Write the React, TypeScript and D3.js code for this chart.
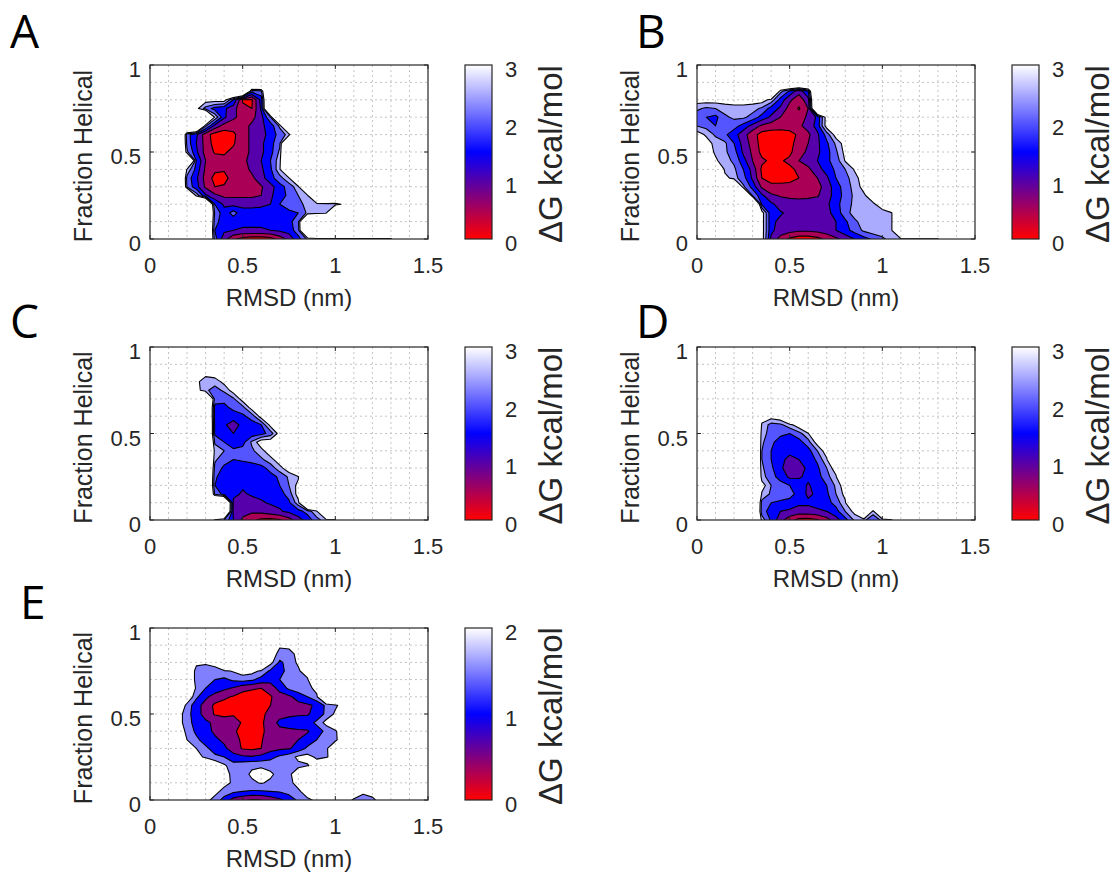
import React from "react";
import * as d3 from "d3";

const _ = null;
type Row = [number, number, (number | null)[]];

// axes
const RMSD_DOMAIN: [number, number] = [0, 1.5];
const HELIX_DOMAIN: [number, number] = [0, 1];
const RMSD_TICKS = [0, 0.5, 1, 1.5];
const RMSD_TICK_LABELS = ["0", "0.5", "1", "1.5"];
const HELIX_TICKS = [0, 0.5, 1];
const HELIX_TICK_LABELS = ["0", "0.5", "1"];
const X_LABEL = "RMSD (nm)";
const Y_LABEL = "Fraction Helical";
const CB_LABEL = "ΔG kcal/mol";
const LEVELS_3 = [0, 0.5, 1, 1.5, 2, 2.5, 3];
const LEVELS_2 = [0, 0.5, 1, 1.5, 2];
const CBAR_TICKS_3 = [0, 1, 2, 3];
const CBAR_TICKS_2 = [0, 1, 2];

// free-energy grid: RMSD nodes 0..1.5 (step 0.05), helical fraction nodes 0..1 (step 0.05)
const STEP_RMSD = 0.05;
const STEP_HELIX = 0.05;
const N_RMSD = 31;
const N_HELIX = 21;

// rows: [helix node j, first rmsd node k, ΔG values (kcal/mol), null = unvisited]
const DG_A: Row[] = [
  [17, 11, [2.2, 2.4]],
  [16, 5, [3.3, 3.3, 3.3, 3.3, 2.0, 0.45, 0.45, 1.7]],
  [15, 5, [3.2, 2.3, 1.8, 1.6, 1.2, 0.6, 0.5, 1.6]],
  [14, 7, [2.9, 1.6, 1.1, 0.8, 0.85, 1.3, 2.5]],
  [13, 6, [2.6, 1.3, 0.8, 0.7, 0.8, 1.1, 1.4, 1.7, 2.6]],
  [12, 4, [2.2, 1.6, 0.7, 0.3, 0.2, 0.4, 0.8, 1.1, 1.3, 1.7, 2.2, 2.7]],
  [11, 4, [2.3, 1.5, 0.8, 0.3, 0.2, 0.45, 0.8, 1.1, 1.4, 1.8, 2.4]],
  [10, 4, [2.6, 1.6, 0.8, 0.45, 0.45, 0.6, 0.8, 1.1, 1.4, 1.8, 2.6]],
  [9, 5, [2.0, 1.0, 0.7, 0.6, 0.7, 0.85, 1.2, 1.5, 2.0, 2.8]],
  [8, 4, [2.9, 1.8, 0.9, 0.6, 0.55, 0.65, 0.8, 1.1, 1.4, 1.9, 2.9]],
  [7, 4, [2.3, 1.6, 0.8, 0.35, 0.35, 0.7, 0.8, 0.9, 1.3, 1.8, 2.3, 2.9]],
  [6, 4, [2.4, 1.7, 0.9, 0.5, 0.55, 0.8, 0.8, 0.85, 0.95, 1.3, 1.8, 2.2, 2.8]],
  [5, 5, [2.8, 1.6, 1.1, 0.9, 0.9, 0.9, 0.9, 1.0, 1.4, 1.8, 2.1, 2.5, 2.9]],
  [4, 7, [2.0, 1.4, 1.35, 1.35, 1.35, 1.4, 1.5, 2.0, 2.2, 2.4, 2.6, 2.7, 2.8, 2.7, 3.2]],
  [3, 7, [2.4, 1.7, 2.2, 1.7, 1.7, 1.7, 1.7, 1.7, 1.9, 2.0, 2.6, 2.8, 2.9]],
  [2, 7, [2.2, 1.7, 1.7, 1.6, 1.6, 1.6, 1.6, 1.7, 1.8, 2.4]],
  [1, 7, [2.0, 1.6, 1.5, 1.45, 1.45, 1.45, 1.5, 1.6, 1.7, 2.3]],
  [0, 7, [2.2, 1.2, 0.6, 0.3, 0.2, 0.2, 0.3, 0.7, 1.2, 1.8, 2.6, 2.8, 2.8, 2.8, 2.8, 2.8, 2.8, 2.8, 2.8, 2.8]],
];

const DG_B: Row[] = [
  [17, 9, [2.7, 1.9, 1.2, 2.0]],
  [16, 0, [3.3, 3.3, 3.3, 3.3, 3.3, 3.3, 3.3, 3.3, 2.8, 1.8, 1.1, 0.7, 1.3]],
  [15, 0, [2.6, 2.4, 2.5, 2.7, 2.8, 2.8, 2.7, 2.4, 1.8, 1.4, 0.8, 0.45, 1.0]],
  [14, 0, [2.2, 2.0, 1.85, 2.4, 2.6, 2.6, 2.3, 1.8, 1.4, 1.0, 0.8, 0.75, 1.1, 1.6, 3.3]],
  [13, 0, [2.5, 2.3, 2.0, 2.2, 2.2, 1.8, 1.3, 0.9, 0.75, 0.7, 0.75, 0.9, 1.2, 1.7, 3.3]],
  [12, 0, [3.3, 2.9, 2.4, 2.1, 1.7, 1.2, 0.7, 0.3, 0.25, 0.25, 0.3, 0.6, 0.9, 1.4, 2.2, 3.3]],
  [11, 1, [3.3, 2.8, 2.6, 2.0, 1.3, 0.8, 0.3, 0.2, 0.2, 0.35, 0.7, 1.0, 1.4, 1.9, 2.6, 3.3]],
  [10, 1, [3.4, 2.9, 2.6, 2.2, 1.4, 0.9, 0.35, 0.3, 0.3, 0.4, 0.8, 1.1, 1.4, 1.8, 2.4, 3.2]],
  [9, 2, [3.1, 2.7, 2.4, 1.7, 1.0, 0.6, 0.4, 0.45, 0.6, 1.0, 1.2, 1.5, 1.9, 2.2, 3.05, 3.3]],
  [8, 3, [2.8, 2.6, 2.0, 1.3, 0.4, 0.3, 0.3, 0.4, 0.6, 0.9, 1.3, 1.7, 2.1, 2.5, 3.05, 3.3]],
  [7, 3, [3.3, 2.7, 2.2, 1.4, 0.5, 0.35, 0.35, 0.4, 0.5, 0.8, 1.0, 1.4, 2.0, 2.3, 2.8, 3.3]],
  [6, 5, [2.6, 1.8, 0.9, 0.6, 0.6, 0.6, 0.7, 0.8, 0.85, 1.2, 1.8, 2.2, 2.7, 3.2]],
  [5, 6, [2.5, 1.6, 1.1, 0.95, 0.9, 0.9, 0.9, 0.95, 1.3, 1.7, 2.2, 2.6, 2.9, 3.4]],
  [4, 7, [1.9, 1.6, 1.3, 1.2, 1.15, 1.2, 1.3, 1.4, 1.8, 2.3, 2.6, 2.7, 2.9, 3.3]],
  [3, 7, [3.3, 1.6, 1.55, 1.4, 1.2, 1.2, 1.2, 1.35, 1.7, 2.3, 2.7, 2.8, 2.8, 2.8, 2.9]],
  [2, 7, [3.3, 1.6, 1.4, 1.3, 1.2, 1.2, 1.25, 1.3, 1.5, 1.9, 2.4, 2.7, 2.8, 2.85, 2.9]],
  [1, 7, [3.3, 1.6, 1.3, 1.2, 1.1, 1.1, 1.15, 1.3, 1.5, 1.8, 2.2, 2.6, 2.8, 2.8, 2.9]],
  [0, 7, [3.3, 1.4, 0.8, 0.4, 0.2, 0.2, 0.35, 0.6, 0.9, 1.2, 1.5, 1.8, 2.1, 2.4, 2.7, 2.9, 2.9, 2.9, 2.9, 2.9]],
];

const DG_C: Row[] = [
  [17, 6, [3.3, 3.4]],
  [16, 5, [3.2, 2.6, 2.7, 3.2]],
  [15, 5, [3.3, 2.6, 2.3, 2.6, 3.3]],
  [14, 7, [2.3, 2.1, 2.4, 3.3]],
  [13, 7, [1.8, 1.9, 2.1, 2.3, 3.3]],
  [12, 7, [1.8, 1.7, 1.8, 1.9, 2.2, 3.3]],
  [11, 7, [1.9, 1.6, 1.2, 1.7, 1.8, 2.0, 3.2]],
  [10, 7, [1.9, 1.6, 1.5, 1.6, 1.7, 1.8, 2.2, 3.3]],
  [9, 7, [2.4, 2.0, 1.7, 1.8, 2.6, 3.4, 3.4]],
  [8, 7, [2.8, 2.5, 2.1, 2.2, 2.4, 2.8, 3.4]],
  [7, 7, [2.6, 2.2, 2.0, 2.1, 2.2, 2.4, 2.8, 3.4]],
  [6, 7, [2.3, 1.9, 1.7, 1.6, 1.7, 1.8, 2.2, 2.8, 3.4]],
  [5, 7, [2.1, 1.7, 1.6, 1.55, 1.6, 1.65, 1.8, 2.1, 2.6, 2.9]],
  [4, 7, [2.0, 1.7, 1.6, 1.55, 1.6, 1.65, 1.75, 2.0, 2.5, 3.2]],
  [3, 7, [2.4, 1.8, 1.6, 1.45, 1.55, 1.6, 1.7, 1.8, 2.2, 3.3]],
  [2, 9, [1.4, 1.3, 1.35, 1.45, 1.55, 1.6, 1.9, 2.8]],
  [1, 9, [1.3, 1.2, 1.1, 1.15, 1.3, 1.45, 1.6, 1.8, 2.2, 2.9]],
  [0, 7, [2.9, 2.5, 1.5, 0.9, 0.6, 0.4, 0.35, 0.45, 0.8, 1.3, 1.7, 2.3, 2.8, 2.9]],
];

const DG_D: Row[] = [
  [12, 7, [3.4, 3.3, 3.5]],
  [11, 7, [2.9, 2.3, 2.4, 2.8, 3.4]],
  [10, 7, [2.7, 2.3, 2.1, 2.0, 2.3, 2.9]],
  [9, 7, [2.6, 2.1, 1.8, 1.7, 1.8, 2.3, 3.3]],
  [8, 7, [2.5, 2.0, 1.7, 1.6, 1.6, 1.8, 2.5, 3.4]],
  [7, 7, [2.5, 2.0, 1.6, 1.4, 1.5, 1.7, 2.1, 2.9]],
  [6, 7, [2.6, 2.1, 1.6, 1.2, 1.3, 1.6, 1.9, 2.5, 3.4]],
  [5, 7, [2.7, 2.2, 1.8, 1.4, 1.45, 1.6, 1.8, 2.3, 2.9]],
  [4, 7, [3.3, 2.5, 2.2, 2.0, 1.7, 1.45, 1.7, 2.0, 2.6, 3.4]],
  [3, 7, [2.9, 2.4, 2.3, 2.2, 1.8, 1.4, 1.6, 1.9, 2.5, 3.2]],
  [2, 7, [2.3, 2.0, 1.9, 1.8, 1.6, 1.6, 1.7, 1.8, 2.2, 2.9]],
  [1, 7, [2.2, 1.8, 1.5, 1.4, 1.3, 1.3, 1.4, 1.5, 1.8, 2.5, 3.2, _, 2.7]],
  [0, 7, [2.8, 1.9, 1.2, 0.7, 0.35, 0.3, 0.45, 0.8, 1.3, 1.8, 2.6, 2.6, 2.2, 2.6, 2.9]],
];

const DG_E: Row[] = [
  [18, 14, [2.1, 2.2]],
  [17, 13, [2.4, 1.8, 1.75, 2.2]],
  [16, 4, [2.1, 2.1, 2.1, 2.2, _, _, _, _, _, 2.2, 1.4, 1.7, 2.1]],
  [15, 4, [2.6, 1.85, 1.7, 1.8, 1.9, 2.05, 2.3, 2.2, 1.9, 1.4, 1.3, 1.7, 1.9, 2.4]],
  [14, 4, [2.6, 1.85, 1.7, 1.5, 1.4, 1.6, 1.7, 1.6, 1.3, 1.2, 1.5, 1.8, 1.9, 1.9]],
  [13, 5, [1.8, 1.5, 1.3, 1.1, 0.95, 0.65, 0.55, 0.5, 0.7, 1.2, 1.6, 1.8, 1.8, 2.2]],
  [12, 4, [2.6, 1.6, 1.1, 0.8, 0.6, 0.45, 0.3, 0.3, 0.35, 0.45, 0.75, 0.9, 1.2, 1.5, 1.9]],
  [11, 3, [2.8, 1.8, 1.2, 0.8, 0.4, 0.3, 0.25, 0.25, 0.3, 0.4, 0.5, 0.8, 0.8, 0.85, 0.9, 1.1, 1.6, 1.9, 2.3]],
  [10, 3, [2.3, 1.7, 1.2, 0.8, 0.45, 0.35, 0.45, 0.3, 0.25, 0.35, 0.7, 0.85, 0.9, 0.95, 0.95, 1.2, 1.6, 2.1]],
  [9, 3, [2.3, 1.7, 1.3, 1.1, 0.9, 0.8, 0.7, 0.45, 0.3, 0.4, 0.8, 1.1, 1.2, 1.2, 1.3, 1.6, 2.2, 2.4]],
  [8, 3, [2.6, 1.8, 1.4, 1.2, 0.9, 0.85, 0.55, 0.4, 0.3, 0.35, 0.8, 0.9, 0.9, 0.95, 0.95, 1.3, 1.6, 1.95, 2.3]],
  [7, 3, [2.6, 2.0, 1.6, 1.3, 1.1, 0.9, 0.6, 0.45, 0.35, 0.45, 0.8, 0.9, 0.95, 1.0, 1.2, 1.5, 1.7, 1.9, 2.4]],
  [6, 4, [2.5, 2.0, 1.6, 1.3, 1.1, 0.75, 0.45, 0.4, 0.5, 0.8, 0.9, 0.95, 1.2, 1.6, 1.8, 1.9, 2.5]],
  [5, 5, [2.4, 1.8, 1.6, 1.5, 1.2, 1.1, 1.05, 1.15, 1.35, 1.6, 1.8, 2.1, 2.2, 1.9, 1.9, 2.4]],
  [4, 7, [2.6, 2.1, 1.7, 1.8, 1.9, 1.9, 1.8, 1.8, 1.9, 1.9, 1.95, 2.3]],
  [3, 8, [2.3, 1.8, 1.8, 2.1, 2.3, 2.1, 1.8, 1.9, 2.3]],
  [2, 8, [2.2, 1.9, 1.7, 1.9, 2.05, 1.9, 1.75, 1.85, 2.2]],
  [1, 7, [2.2, 1.8, 1.6, 1.5, 1.45, 1.45, 1.5, 1.55, 1.7, 1.9, 2.3, _, _, _, _, 2.3, 2.1, 2.2]],
  [0, 6, [2.2, 1.8, 1.3, 0.8, 0.6, 0.45, 0.5, 0.7, 0.9, 1.2, 1.6, 1.9, 2.1, 2.1, 2.2, 2.2, 1.95, 1.8, 1.9, 2.2]],
];

type PanelCfg = {
  name: string; rows: Row[]; levels: number[]; cbTicks: number[];
  x0: number; y0: number; x1: number; y1: number; cbX: number; lx: number; ly: number;
};

const PANELS: PanelCfg[] = [
  { name: "A", rows: DG_A, levels: LEVELS_3, cbTicks: CBAR_TICKS_3, x0: 150, y0: 65, x1: 428, y1: 239, cbX: 465, lx: 10, ly: 48 },
  { name: "B", rows: DG_B, levels: LEVELS_3, cbTicks: CBAR_TICKS_3, x0: 697, y0: 65, x1: 975, y1: 239, cbX: 1012, lx: 636, ly: 48 },
  { name: "C", rows: DG_C, levels: LEVELS_3, cbTicks: CBAR_TICKS_3, x0: 150, y0: 347, x1: 428, y1: 520, cbX: 465, lx: 10, ly: 338 },
  { name: "D", rows: DG_D, levels: LEVELS_3, cbTicks: CBAR_TICKS_3, x0: 697, y0: 347, x1: 975, y1: 520, cbX: 1012, lx: 636, ly: 338 },
  { name: "E", rows: DG_E, levels: LEVELS_2, cbTicks: CBAR_TICKS_2, x0: 150, y0: 628, x1: 428, y1: 800, cbX: 465, lx: 20, ly: 619 },
];

const FONT = "'Liberation Sans', Arial, Helvetica, sans-serif";
const TXT = "#262626";
const CB_W = 27;

function makeColor(max: number) {
  const lo = d3.interpolateRgb("#ff0000", "#0000ff");
  const hi = d3.interpolateRgb("#0000ff", "#ffffff");
  return (v: number) => {
    const t = Math.max(0, Math.min(1, v / max));
    return t <= 0.5 ? lo(t * 2) : hi((t - 0.5) * 2);
  };
}

function buildField(rows: Row[], empty: number): number[] {
  const vals: number[] = new Array(N_RMSD * N_HELIX).fill(empty);
  rows.forEach(([j, k0, vs]) => {
    vs.forEach((v, i) => {
      if (v != null) vals[(N_HELIX - 1 - j) * N_RMSD + k0 + i] = v;
    });
  });
  return vals;
}

function Panel({ cfg }: { cfg: PanelCfg }) {
  const { name, rows, levels, cbTicks, x0, y0, x1, y1, cbX, lx, ly } = cfg;
  const max = levels[levels.length - 1];
  const x = d3.scaleLinear().domain(RMSD_DOMAIN).range([x0, x1]);
  const y = d3.scaleLinear().domain(HELIX_DOMAIN).range([y1, y0]);
  const color = makeColor(max);
  const field = buildField(rows, max * 2).map((v) => -v);
  const gen = d3.contours().size([N_RMSD, N_HELIX]);
  const proj = d3.geoTransform({
    point(px: number, py: number) {
      (this as any).stream.point(x((px - 0.5) * STEP_RMSD), y(HELIX_DOMAIN[1] - (py - 0.5) * STEP_HELIX));
    },
  });
  const path = d3.geoPath(proj as any);
  const uppers = levels.slice(1).reverse();
  const minorX = d3.range(1, 15).map((i) => i / 10);
  const minorY = d3.range(1, 10).map((i) => i / 10);
  const cy = d3.scaleLinear().domain([0, max]).range([y1, y0]);
  const gradStops = d3.range(0, 21).map((i) => i / 20);
  const midY = (y0 + y1) / 2;

  return (
    <g>
      <defs>
        <clipPath id={`clip-${name}`}>
          <rect x={x0} y={y0} width={x1 - x0} height={y1 - y0} />
        </clipPath>
        <linearGradient id={`grad-${name}`} x1="0" y1="1" x2="0" y2="0">
          {gradStops.map((t) => (
            <stop key={t} offset={t} stopColor={color(t * max)} />
          ))}
        </linearGradient>
      </defs>
      <rect x={x0} y={y0} width={x1 - x0} height={y1 - y0} fill="#fff" />
      {minorX.map((v) => (
        <line key={`gx${v}`} x1={x(v)} x2={x(v)} y1={y0} y2={y1} stroke="#c4c4c4" strokeWidth={1} strokeDasharray="2,3" />
      ))}
      {minorY.map((v) => (
        <line key={`gy${v}`} x1={x0} x2={x1} y1={y(v)} y2={y(v)} stroke="#c4c4c4" strokeWidth={1} strokeDasharray="2,3" />
      ))}
      <g clipPath={`url(#clip-${name})`}>
        {uppers.map((u) => (
          <path
            key={u}
            d={path(gen.contour(field, -u) as any) || undefined}
            fill={color(u - 0.5)}
            fillRule="evenodd"
            stroke="#000"
            strokeWidth={1.1}
            strokeLinejoin="round"
          />
        ))}
      </g>
      {RMSD_TICKS.map((t) => (
        <g key={`tx${t}`}>
          <line x1={x(t)} x2={x(t)} y1={y1} y2={y1 - 4} stroke={TXT} />
          <line x1={x(t)} x2={x(t)} y1={y0} y2={y0 + 4} stroke={TXT} />
        </g>
      ))}
      {HELIX_TICKS.map((t) => (
        <g key={`ty${t}`}>
          <line x1={x0} x2={x0 + 4} y1={y(t)} y2={y(t)} stroke={TXT} />
          <line x1={x1} x2={x1 - 4} y1={y(t)} y2={y(t)} stroke={TXT} />
        </g>
      ))}
      <rect x={x0} y={y0} width={x1 - x0} height={y1 - y0} fill="none" stroke={TXT} strokeWidth={1.2} />
      {RMSD_TICKS.map((t, i) => (
        <text key={`lx${t}`} x={x(t)} y={y1 + 34} textAnchor="middle" fontFamily={FONT} fontSize={22} fill={TXT}>
          {RMSD_TICK_LABELS[i]}
        </text>
      ))}
      {HELIX_TICKS.map((t, i) => (
        <text key={`ly${t}`} x={x0 - 9} y={y(t) + 12} textAnchor="end" fontFamily={FONT} fontSize={22} fill={TXT}>
          {HELIX_TICK_LABELS[i]}
        </text>
      ))}
      <text x={(x0 + x1) / 2} y={y1 + 67} textAnchor="middle" fontFamily={FONT} fontSize={24} fill={TXT}>
        {X_LABEL}
      </text>
      <text
        transform={`translate(${x0 - 58},${midY + 4}) rotate(-90)`}
        textAnchor="middle"
        fontFamily={FONT}
        fontSize={25}
        fill={TXT}
      >
        {Y_LABEL}
      </text>
      <rect x={cbX} y={y0} width={CB_W} height={y1 - y0} fill={`url(#grad-${name})`} stroke={TXT} strokeWidth={1.2} />
      {cbTicks.map((t) => (
        <text key={`cb${t}`} x={cbX + CB_W + 13} y={cy(t) + 12} fontFamily={FONT} fontSize={22} fill={TXT}>
          {String(t)}
        </text>
      ))}
      <text
        transform={`translate(${cbX + CB_W + 70},${midY + 2}) rotate(-90)`}
        textAnchor="middle"
        fontFamily={FONT}
        fontSize={33}
        fill={TXT}
      >
        {CB_LABEL}
      </text>
      <text x={lx} y={ly} fontFamily="'Open Sans', sans-serif" fontSize={46} fill="#000">
        {name}
      </text>
    </g>
  );
}

export default function App() {
  return (
    <svg width={1120} height={876} style={{ position: "absolute", left: 0, top: 0, background: "#fff" }}>
      <rect width={1120} height={876} fill="#fff" />
      {PANELS.map((p) => (
        <Panel key={p.name} cfg={p} />
      ))}
    </svg>
  );
}
